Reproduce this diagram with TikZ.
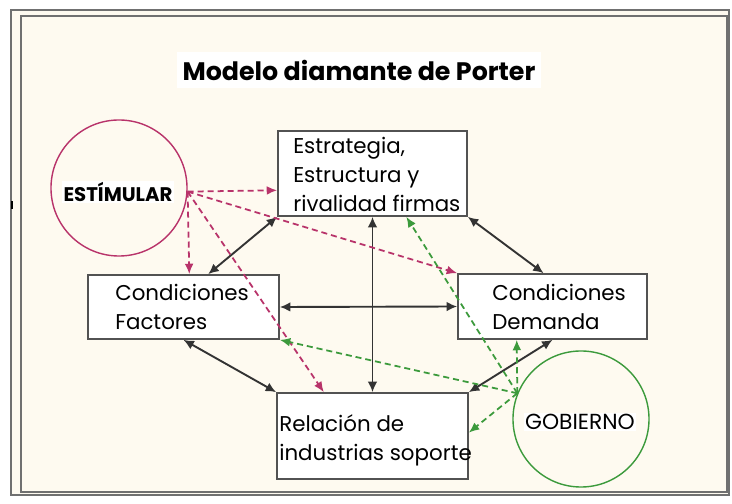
\documentclass[tikz,border=0pt]{standalone}
\usepackage{fontspec}
\setmainfont{Poppins}
\usetikzlibrary{arrows.meta, positioning}

\definecolor{cream}{HTML}{FEFAF0}
\definecolor{framegray}{HTML}{707070}
\definecolor{estred}{HTML}{B8336A}
\definecolor{gobgreen}{HTML}{3C9A3C}
\definecolor{edgegray}{HTML}{333333}

\tikzset{
  block/.style={draw=edgegray!85, line width=1.2pt, fill=white, inner sep=0pt},
  txt/.style={align=left, anchor=north west, inner sep=0pt, font=\fontsize{15.2}{20.6}\selectfont},
  ring/.style={circle, draw=#1, line width=1pt, minimum size=3.4cm, inner sep=0pt},
  tag/.style={fill=white, inner sep=1pt, font=\fontsize{15.5}{17}\selectfont},
  link/.style={{Latex[length=2.6mm,width=2.4mm]}-{Latex[length=2.6mm,width=2.4mm]}, line width=1.35pt, draw=edgegray},
  push/.style={-{Latex[length=2.6mm,width=2.2mm]}, dash pattern=on 4.3pt off 2.8pt, line width=1.25pt, draw=#1},
}

\begin{document}
\begin{tikzpicture}[x=0.025cm, y=-0.025cm]
    % page and double frame
    \fill[white] (0,0) rectangle (732,504);
    \fill[cream] (11,10) rectangle (729,495);
    \draw[framegray, line width=1.6pt] (11,10) rectangle (729,495);
    \draw[framegray, line width=1.6pt] (21,16) rectangle (727,492);
    \draw[black, line width=2pt] (12,201) -- (12,209);

    % title
    \node[fill=white, minimum width=9.1cm, minimum height=0.875cm, inner sep=0pt,
          font=\fontsize{18}{20}\selectfont\bfseries] (title) at (359,70) {Modelo diamante de Porter};

    % the four blocks of the diamond
    \node[block, minimum width=4.725cm, minimum height=2.125cm] (est) at (372.5,173.5) {};
    \node[block, minimum width=4.775cm, minimum height=1.6cm]   (fac) at (183.5,307) {};
    \node[block, minimum width=4.725cm, minimum height=1.625cm] (dem) at (552.5,306.5) {};
    \node[block, minimum width=4.775cm, minimum height=2.15cm]  (rel) at (372.5,436) {};

    \node[txt] (estT) at (293,137) {Estrategia,\\Estructura y\\rivalidad firmas};
    \node[txt] (facT) at (115,284) {Condiciones\\Factores};
    \node[txt] (demT) at (492,284) {Condiciones\\Demanda};
    \node[txt] (relT) at (279,414) {Relación de\\industrias soporte};

    % outside forces
    \node[ring=estred]   (estim) at (119,188) {};
    \node[ring=gobgreen] (gob)   at (581,419) {};
    \node[tag, font=\fontsize{14}{16}\selectfont\bfseries] (estimT) at (118,192) {ESTÍMULAR};
    \node[tag] (gobT) at (580,422) {GOBIERNO};

    % links inside the diamond
    \draw[link] (est.south west) -- (fac.53);
    \draw[link] (est.south east) -- (dem.105);
    \draw[link] (est.south) -- (rel.north);
    \draw[link] (fac.east) -- (dem.west);
    \draw[link] (fac.south) -- (rel.north west);
    \draw[link] (dem.south) -- (rel.north east);

    % stimulus
    \draw[push=estred] (estim.-3) -- (est.190);
    \draw[push=estred] (estim.-3) -- (fac.80);
    \draw[push=estred] (estim.-3) -- (rel.138);
    \draw[push=estred] (estim.-3) -- (dem.north west);

    % government
    \draw[push=gobgreen] (gob.158) -- (est.-52);
    \draw[push=gobgreen] (gob.158) -- (dem.223);
    \draw[push=gobgreen] (gob.158) -- (fac.south east);
    \draw[push=gobgreen] (gob.158) -- (rel.2);
\end{tikzpicture}
\end{document}
